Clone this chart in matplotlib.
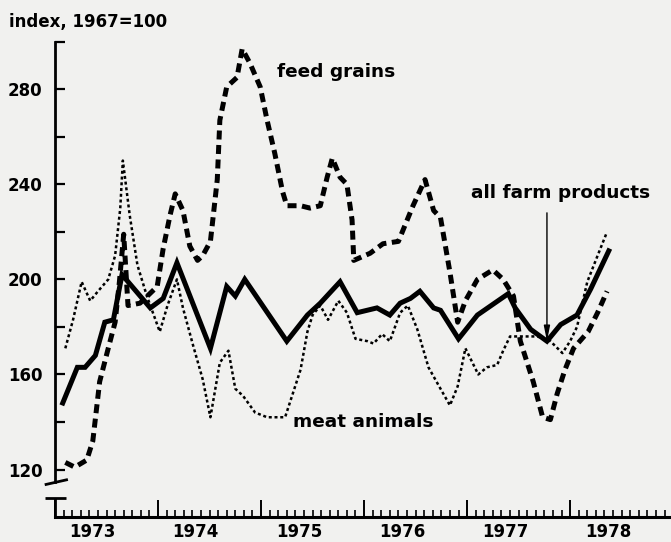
import matplotlib
matplotlib.use("Agg")
import matplotlib.pyplot as plt
from matplotlib.ticker import MultipleLocator, FixedLocator

# months since January 1973
farm_month = [0.9, 2.6, 3.5, 4.7, 5.8, 6.8, 7.8, 11.1, 12.6, 14.2, 18.1, 20.0,
              21.0, 22.1, 27.0, 29.4, 30.9, 33.2, 35.2, 37.5, 39.0, 40.2, 41.4,
              42.5, 44.1, 44.9, 47.0, 49.2, 52.8, 53.6, 55.4, 57.3, 58.9, 60.8,
              62.4, 64.5]
farm_value = [148, 163, 163, 168, 182, 183, 202, 188, 192, 207, 171, 197,
              193, 200, 174, 185, 190, 199, 186, 188, 185, 190, 192,
              195, 188, 187, 175, 185, 194, 188, 179, 174, 181, 185,
              196, 212]

feed_month = [1.2, 2.3, 3.7, 4.4, 5.2, 6.2, 7.0, 7.5, 8.0, 8.5, 9.9, 11.9,
              12.6, 13.4, 14.0, 14.9, 15.7, 16.6, 17.2, 18.1, 18.9, 19.2, 20.0,
              21.2, 21.8, 22.7, 23.9, 24.7, 25.6, 26.5, 27.0, 28.6, 29.7, 30.9,
              31.7, 32.3, 33.2, 34.0, 34.6, 34.8, 36.7, 38.2, 40.0, 41.7, 43.1,
              44.1, 44.9, 46.0, 46.9, 47.8, 49.2, 51.0, 52.2, 53.4, 54.2, 55.7,
              56.8, 57.7, 58.5, 59.4, 60.4, 62.1, 63.2, 64.3]
feed_value = [123, 121, 124, 132, 157, 171, 182, 199, 219, 189, 190, 197,
              213, 227, 236, 229, 214, 208, 210, 216, 242, 267, 281,
              285, 297, 291, 281, 267, 253, 237, 231, 231, 230, 231,
              243, 251, 243, 240, 225, 208, 211, 215, 216, 231, 242,
              229, 226, 203, 182, 191, 200, 204, 200, 193, 174, 157,
              142, 141, 152, 162, 171, 178, 186, 195]

meat_month = [1.2, 2.1, 3.1, 4.1, 5.0, 6.2, 7.0, 7.6, 7.9, 8.7, 9.6, 10.7,
              12.2, 13.1, 14.2, 14.9, 16.1, 17.2, 18.1, 19.2, 20.2, 21.0, 21.9,
              23.3, 24.7, 26.8, 28.6, 29.4, 30.0, 30.9, 31.8, 33.0, 34.0, 35.0,
              36.4, 37.1, 38.1, 39.0, 40.2, 41.1, 42.2, 43.5, 44.9, 46.0, 46.9,
              47.8, 49.3, 50.3, 51.5, 52.2, 53.0, 56.2, 57.7, 59.1, 60.0, 60.8,
              62.0, 63.2, 64.3]
meat_value = [171, 183, 199, 191, 195, 200, 210, 230, 250, 227, 206, 193,
              178, 189, 200, 188, 172, 158, 142, 165, 170, 154, 151,
              144, 142, 142, 162, 178, 185, 189, 183, 191, 186, 175,
              174, 173, 177, 174, 186, 189, 179, 163, 154, 147, 155,
              171, 160, 163, 164, 170, 176, 176, 174, 169, 174, 180,
              199, 210, 220]

years = ["1973", "1974", "1975", "1976", "1977", "1978"]

fig = plt.figure(figsize=(6.71, 5.42), dpi=100, facecolor="#f1f1ef")
ax = fig.add_axes([0.082, 0.046, 0.918, 0.877])
ax.set_facecolor("none")
ax.set_xlim(0, 71.75)
ax.set_ylim(100, 300)

ax.plot(meat_month, meat_value, color="k", lw=1.8, dashes=(1.2, 1.1))
ax.plot(feed_month, feed_value, color="k", lw=3.6, dashes=(1.8, 1.1),
        dash_capstyle="butt")
ax.plot(farm_month, farm_value, color="k", lw=3.6, solid_joinstyle="miter")

# arrow to the 1977 low of all farm products
low = min(range(28, len(farm_value)), key=lambda i: farm_value[i])
ax.annotate("", xy=(farm_month[low], farm_value[low]),
            xytext=(farm_month[low], 228),
            arrowprops=dict(arrowstyle="-|>,head_length=0.9,head_width=0.18",
                            color="k", lw=1, shrinkA=0, shrinkB=0))

lab = dict(fontsize=13.3, fontweight="bold", family="DejaVu Sans")
ax.text(25.9, 287.4, "feed grains", va="center", ha="left", **lab)
ax.text(48.4, 236.4, "all farm products", va="center", ha="left", **lab)
ax.text(27.7, 140, "meat animals", va="center", ha="left", **lab)
fig.text(0.013, 0.959, "index, 1967=100", va="center", ha="left",
         fontsize=12, fontweight="bold", family="DejaVu Sans")

# axes
for s in ["top", "right"]:
    ax.spines[s].set_visible(False)
ax.spines["left"].set_linewidth(2)
ax.spines["left"].set_bounds(114.6, 300)
ax.spines["bottom"].set_linewidth(2.2)

ax.yaxis.set_major_locator(FixedLocator([120, 160, 200, 240, 280]))
ax.yaxis.set_minor_locator(FixedLocator([140, 180, 220, 260, 300]))
ax.tick_params(axis="y", which="both", direction="in", length=7, width=1.6,
               pad=9)
ax.tick_params(axis="y", labelsize=12)
for t in ax.get_yticklabels():
    t.set_fontweight("bold")

ax.xaxis.set_major_locator(MultipleLocator(12))
ax.xaxis.set_minor_locator(MultipleLocator(1))
ax.tick_params(axis="x", which="major", direction="in", length=12.5,
               width=1.4, labelbottom=False)
ax.tick_params(axis="x", which="minor", direction="in", length=5, width=1.2)
for i, y in enumerate(years):
    ax.text(12 * i + 4.4, -0.032, y, transform=ax.get_xaxis_transform(),
            ha="center", va="center", fontsize=12, fontweight="bold")

# axis break marks and the short lower piece of the y axis
kw = dict(color="k", lw=2, clip_on=False, solid_capstyle="butt")
ax.plot([-1.2, 1.5], [113.6, 115.8], **kw)
ax.plot([-1.2, 1.3], [108, 108], **kw)
ax.plot([0, 0], [100, 108], **kw)

fig.savefig("out.png", dpi=100, facecolor=fig.get_facecolor())
